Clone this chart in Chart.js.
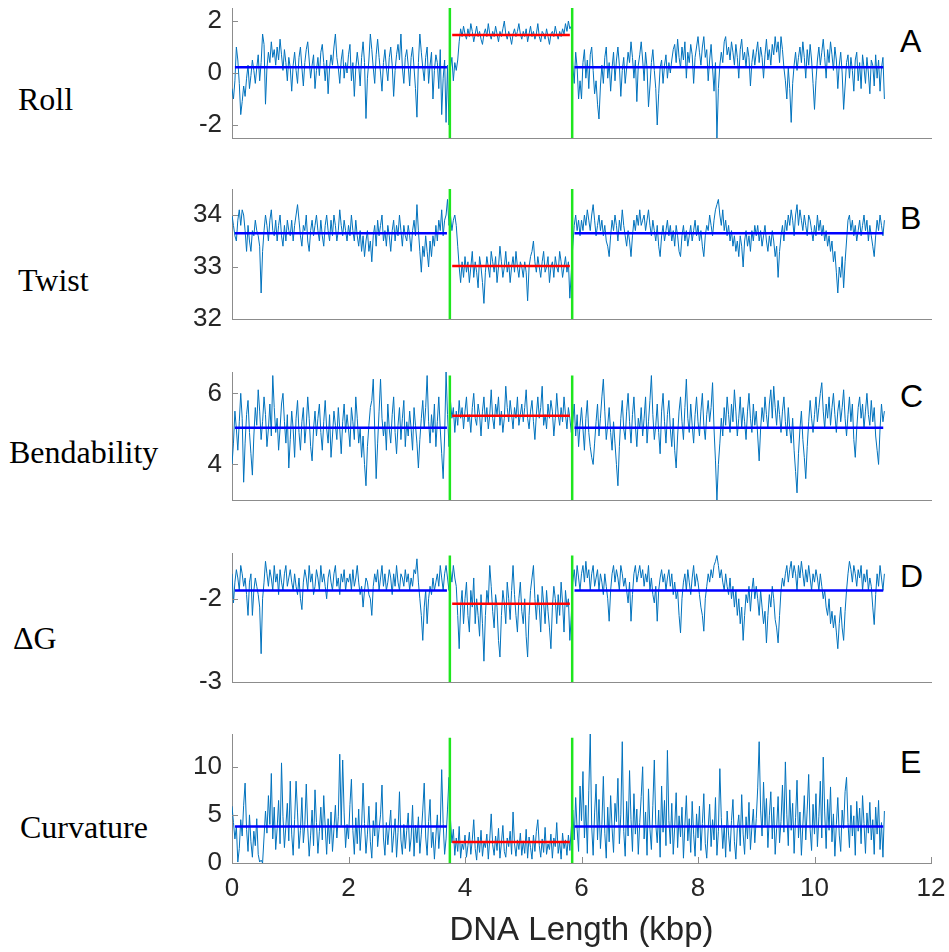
<!DOCTYPE html>
<html>
<head>
<meta charset="utf-8">
<script src="https://cdn.jsdelivr.net/npm/chart.js@4.4.1/dist/chart.umd.min.js"></script>
<style>
body{margin:0;background:#fff;width:949px;height:952px;position:relative;overflow:hidden;font-family:"Liberation Sans",Arial,sans-serif}
.caja{position:absolute;left:0}
.nombre{position:absolute;font-family:"Liberation Serif","Times New Roman",serif;font-size:32px;line-height:32px;color:#000;white-space:nowrap}
.letra{position:absolute;left:900px;font-size:32px;color:#000;transform:translateY(-50%)}
</style>
</head>
<body>
<div class="nombre" style="left:18px;top:83px">Roll</div>
<div class="nombre" style="left:18px;top:264px">Twist</div>
<div class="nombre" style="left:9px;top:436px">Bendability</div>
<div class="nombre" style="left:13px;top:622px">&Delta;G</div>
<div class="nombre" style="left:20px;top:811px">Curvature</div>
<div class="letra" style="top:41px">A</div>
<div class="letra" style="top:218px">B</div>
<div class="letra" style="top:396px">C</div>
<div class="letra" style="top:576px">D</div>
<div class="letra" style="top:762px">E</div>

<div class="caja" id="cajaA"><canvas id="grafA"></canvas></div>
<div class="caja" id="cajaB"><canvas id="grafB"></canvas></div>
<div class="caja" id="cajaC"><canvas id="grafC"></canvas></div>
<div class="caja" id="cajaD"><canvas id="grafD"></canvas></div>
<div class="caja" id="cajaE"><canvas id="grafE"></canvas></div>

<script>
// una muestra cada 0.025 kbp, de 0 a 11.2 kbp (40 por fila = 1 kbp)
var paso = 0.025;

var roll = [
 -0.6, -1.0, -0.3, 1.0, 0.5, -0.4, -1.6, -1.1, -0.5, -0.9,
 -0.2, 0.3, -0.6, -0.1, 0.5, 0.1, -0.4, 0.2, 0.7, -0.3,
 0.4, 1.5, 1.1, -1.2, 0.2, 0.8, 0.4, 1.2, 0.6, 0.9,
 0.3, 1.0, 0.5, 1.3, 0.7, 0.1, 0.9, 0.4, -0.3, 0.6,
 0.2, -0.7, 0.3, 0.8, 0.1, -0.4, 0.6, 1.0, 0.2, -0.5,
 0.4, 0.9, 1.2, 0.5, -0.2, 0.3, 0.7, -0.6, 0.1, 0.6,
 -0.1, 0.8, 1.1, 0.4, -0.3, 0.5, -0.8, 0.2, 0.7, 0.3,
 1.0, 1.5, 0.6, 0.2, -0.4, 0.5, 0.9, -0.2, 0.4, 0.0,
 0.7, 1.1, -0.3, 0.4, -0.9, 0.2, 0.8, 0.3, -0.5, 0.6,
 1.2, 0.4, -1.75, -0.2, 0.5, 1.5, 0.9, 0.2, -0.4, 0.7,
 1.3, 0.6, 0.0, -0.7, 0.4, 0.9, 0.2, -0.3, 0.6, 1.0,
 0.3, -0.9, 0.1, 0.7, 1.1, 0.5, 1.5, 0.2, -0.4, 0.6,
 0.9, 0.3, -0.5, 0.6, 1.0, 0.2, -0.6, -1.7, 0.4, 1.5,
 0.8, 0.2, -0.3, 0.6, 1.0, -0.4, 0.3, 0.8, -1.0, 0.1,
 0.7, 0.4, -0.6, 0.9, -1.6, -0.2, 0.5, -1.9, 0.3, -2.0,
 0.2, 0.6, -0.3, 0.4, 0.1, 0.5, 1.2, 1.7, 1.4, 1.8,
 1.5, 1.3, 1.7, 1.4, 1.9, 1.6, 1.2, 1.5, 1.8, 1.4,
 1.6, 1.3, 1.1, 1.5, 1.7, 1.4, 1.9, 1.5, 1.3, 1.6,
 1.4, 1.8, 1.5, 1.2, 1.6, 1.4, 1.7, 2.0, 1.5, 1.3,
 1.6, 1.4, 1.1, 1.5, 1.7, 1.4, 1.6, 1.9, 1.5, 1.3,
 1.6, 1.4, 1.7, 1.2, 1.5, 1.8, 1.4, 1.6, 1.3, 1.5,
 1.9, 1.4, 1.2, 1.6, 1.5, 1.3, 1.7, 1.4, 1.1, 1.5,
 1.6, 1.4, 1.8, 1.5, 1.3, 1.6, 1.4, 1.7, 1.5, 1.9,
 1.6, 2.0, 1.7, 1.8, 0.3, -0.4, 0.8, 0.2, -1.0, -0.3,
 -1.0, 0.4, 0.9, -0.2, 0.5, -0.6, 0.7, 1.0, 0.1, -0.8,
 -0.3, -1.2, -1.77, -0.5, 0.3, -0.4, 0.6, 1.0, -0.2, 0.4,
 -0.7, 0.2, 0.8, -0.3, 0.5, 1.0, 0.3, -0.9, 0.1, 0.6,
 -0.4, 0.2, 0.8, 0.4, 1.2, 0.6, -0.2, 0.5, -1.1, 0.3,
 0.7, 1.2, 0.5, -0.3, 0.8, 0.2, -1.3, -0.5, 0.4, 0.9,
 0.1, -0.6, -2.0, -0.8, 0.2, 0.5, -0.4, 0.3, 0.7, -0.2,
 0.4, 0.0, 0.5, 0.9, 1.1, 0.4, 1.3, 0.6, 0.2, 1.0,
 0.5, 1.2, -0.2, 0.8, 0.4, 1.1, 0.7, -0.4, 0.6, 1.0,
 1.4, 0.8, 0.3, 1.0, 1.4, 0.6, 0.9, -0.3, 0.5, 1.1,
 0.2, -0.7, 0.4, -2.5, -0.6, 0.3, 0.8, 0.4, 1.2, 1.4,
 0.7, 1.0, 0.5, 1.2, 0.8, 0.3, 1.1, 0.6, -0.2, 0.9,
 1.3, 0.5, 0.8, 0.2, 1.0, 0.6, -0.5, 0.4, 0.9, 0.3,
 0.8, 1.2, 0.4, 1.0, 0.6, -0.2, 0.7, 1.3, 0.5, 0.9,
 0.3, 1.1, 0.7, 1.4, 0.8, 1.2, 0.4, 1.4, 0.9, 0.2,
 -0.3, -1.0, 0.2, -0.6, -1.9, -0.4, 0.3, 0.8, 0.1, 0.6,
 1.0, 0.4, 1.2, 0.6, -0.2, 0.9, 0.3, 1.1, 0.5, -0.4,
 -1.4, -0.3, 0.5, 1.0, 0.3, 0.8, 1.3, 0.6, -0.2, 0.9,
 0.4, 1.2, 0.7, 0.1, 1.0, 0.5, -0.6, 0.3, 0.8, 0.0,
 -1.4, -0.5, 0.4, 0.7, -0.2, 0.6, 0.1, -0.7, 0.5, 0.8,
 -0.3, 0.4, -0.6, 0.7, 0.2, -0.4, 0.6, 0.0, -0.8, 0.5,
 0.3, -0.5, 0.7, -0.2, 0.5, -0.7, 0.2, 0.6, -1.0
];

var twist = [
 34.0, 33.8, 33.6, 33.5, 33.9, 34.1, 33.8, 34.1, 34.0, 33.7,
 33.3, 33.8, 33.5, 33.3, 33.7, 33.6, 33.9, 33.7, 33.6, 33.4,
 32.5, 33.3, 33.7, 34.0, 33.8, 33.5, 33.9, 34.1, 33.7, 33.6,
 33.9, 33.5, 33.8, 34.0, 33.6, 33.4, 33.8, 33.5, 33.9, 33.7,
 33.6, 33.9, 33.5, 33.8, 34.0, 34.2, 33.9, 33.6, 33.4, 33.8,
 33.7, 34.0, 33.5, 33.3, 33.7, 33.9, 33.6, 33.8, 34.0, 33.7,
 33.5, 33.9, 33.6, 33.4, 33.8, 34.0, 33.7, 33.5, 33.9, 33.6,
 34.0, 33.8, 33.5, 33.7, 34.1, 33.8, 33.6, 33.9, 33.7, 33.5,
 33.8, 33.6, 34.0, 33.7, 33.5, 33.9, 33.6, 33.4, 33.7, 33.3,
 33.6, 33.2, 33.5, 33.7, 33.3, 33.5, 33.1, 33.6, 33.8, 33.4,
 33.9, 33.6, 33.8, 34.0, 33.5, 33.7, 33.4, 33.8, 33.6, 33.3,
 33.7, 33.9, 33.5, 33.8, 33.6, 34.0, 33.7, 33.4, 33.8, 33.6,
 33.5, 33.8, 33.6, 33.3, 33.7, 33.9, 33.6, 34.2, 33.7, 33.3,
 32.9, 33.4, 33.2, 33.6, 33.3, 33.0, 33.5, 33.2, 33.6, 33.4,
 33.8, 33.5, 33.9, 33.7, 34.1, 33.6, 33.9, 34.0, 34.3, 33.8,
 34.0, 33.7, 33.9, 34.0, 33.8, 33.4, 33.0, 32.7, 33.1, 32.8,
 33.2, 32.9, 33.1, 32.7, 33.0, 33.3, 32.8, 33.1, 32.9, 32.6,
 33.2, 33.0, 32.7, 32.3, 32.9, 33.2, 33.0, 32.8, 33.3, 33.1,
 32.9, 33.2, 32.7, 33.0, 33.4, 33.1, 32.8, 33.0, 33.3, 32.9,
 33.1, 32.7, 33.0, 33.2, 32.9, 33.3, 33.0, 32.8, 33.1, 33.0,
 32.8, 33.1, 32.9, 32.35, 33.0, 33.2, 33.3, 33.5, 33.1, 32.9,
 33.2, 33.0, 32.8, 33.1, 33.3, 32.9, 33.0, 33.2, 32.7, 33.0,
 33.1, 32.8, 33.2, 33.0, 32.9, 33.3, 33.1, 32.8, 33.0, 33.2,
 32.9, 33.1, 32.4, 32.9, 33.4, 33.8, 34.0, 33.7, 33.9, 33.6,
 33.9, 33.7, 34.0, 33.8, 34.1, 33.9, 33.7, 34.0, 34.2, 33.9,
 33.6, 33.8, 34.0, 33.7, 33.9, 33.6, 33.8, 33.5, 33.4, 33.2,
 33.6, 33.9, 33.7, 34.0, 33.8, 33.5, 33.9, 33.7, 34.1, 33.8,
 33.6, 33.4, 33.7, 33.5, 33.2, 33.6, 33.9, 33.7, 34.0, 33.8,
 34.1, 33.8, 33.9, 34.0, 33.7, 33.9, 34.1, 33.8, 33.6, 33.9,
 33.7, 33.5, 33.8, 33.4, 33.2, 33.6, 33.8, 33.5, 33.7, 33.9,
 33.6, 33.8, 33.5, 33.7, 33.4, 33.8, 33.6, 33.3, 33.2, 33.6,
 33.8, 33.5, 33.7, 33.4, 33.6, 33.8, 33.5, 33.7, 33.9, 33.6,
 33.8, 33.5, 33.7, 33.4, 33.2, 33.6, 33.8, 33.7, 34.0, 33.8,
 33.6, 33.9, 34.1, 34.2, 34.3, 34.0, 33.8, 34.1, 33.7, 33.9,
 33.6, 33.8, 33.5, 33.7, 33.4, 33.6, 33.3, 33.5, 33.2, 33.6,
 33.4, 33.0, 33.5, 33.7, 33.4, 33.6, 33.3, 33.7, 33.5, 33.8,
 33.6, 33.8, 33.5, 33.7, 33.4, 33.6, 33.8, 33.5, 33.3, 33.6,
 33.4, 33.7, 33.5, 33.2, 33.4, 32.8, 33.3, 33.6, 33.8, 33.5,
 33.9, 33.7, 34.0, 33.8, 34.1, 33.9, 33.6, 34.0, 34.2, 33.8,
 34.1, 33.9, 33.7, 34.0, 33.8, 33.6, 34.0, 33.9, 33.7, 33.5,
 33.8, 33.6, 34.0, 33.7, 33.9, 33.6, 33.8, 33.5, 33.7, 33.4,
 33.6, 33.3, 33.5, 33.1, 33.3, 32.9, 32.5, 33.0, 32.8, 33.2,
 32.6, 33.1, 33.5, 33.9, 34.0, 33.7, 33.9, 33.6, 33.8, 33.5,
 33.7, 33.9, 33.6, 33.8, 34.0, 33.7, 33.9, 33.5, 33.8, 33.6,
 33.4, 33.2, 33.6, 33.9, 33.7, 34.0, 33.8, 33.6, 33.9
];

var bendability = [
 4.0, 4.6, 5.5, 5.0, 4.4, 5.2, 6.0, 5.3, 3.5, 4.6,
 5.4, 5.8, 4.9, 4.3, 3.7, 4.8, 5.6, 5.1, 6.1, 5.5,
 4.7, 5.2, 5.9, 5.4, 4.5, 5.0, 5.7, 4.8, 6.5, 5.6,
 4.9, 5.3, 4.4, 5.0, 5.7, 6.0, 5.2, 4.6, 5.4, 3.9,
 4.7, 5.5, 5.0, 4.2, 5.3, 5.8, 4.9, 4.4, 5.2, 5.6,
 4.6, 5.1, 5.9, 5.3, 4.5, 4.1, 5.0, 5.5, 4.8, 5.3,
 5.7, 4.9, 4.4, 5.2, 5.8, 5.0, 4.6, 5.4, 4.2, 4.8,
 5.5, 5.1, 4.7, 5.6, 5.0, 4.3, 5.2, 5.7, 4.9, 5.4,
 5.0, 4.5, 5.6, 5.2, 4.7, 5.9, 5.3, 4.6, 5.0, 4.2,
 4.8, 4.0, 3.4, 4.5, 5.1, 5.6, 5.8, 6.4, 5.0, 3.6,
 4.6, 5.5, 6.4, 5.3, 4.8, 5.2, 4.4, 5.7, 5.0, 4.6,
 5.4, 5.9, 4.9, 4.3, 5.1, 5.6, 4.7, 5.3, 5.8, 4.5,
 5.2, 4.8, 5.5, 5.0, 4.4, 5.6, 5.1, 4.6, 3.9, 4.7,
 5.3, 5.8, 5.0, 5.6, 6.5, 5.2, 4.6, 5.4, 4.9, 5.7,
 4.5, 5.2, 5.9, 5.0, 4.3, 3.6, 4.8, 6.6, 5.4, 4.5,
 5.8, 5.3, 5.6, 4.9, 5.5, 5.1, 5.8, 5.3, 5.6, 5.0,
 5.5, 5.9, 5.2, 5.4, 4.9, 5.6, 6.0, 5.3, 5.1, 5.7,
 5.4, 4.8, 5.5, 5.9, 5.2, 5.6, 5.0, 5.4, 6.1, 5.3,
 5.0, 5.7, 5.4, 5.9, 5.1, 5.5, 4.9, 5.3, 6.2, 5.6,
 5.2, 5.8, 5.4, 5.0, 5.6, 5.3, 5.9, 5.1, 5.4, 5.7,
 5.2, 5.6, 6.1, 5.3, 5.0, 5.5, 5.8, 5.2, 4.7, 5.4,
 5.9, 5.3, 5.6, 6.2, 5.1, 5.4, 5.0, 5.7, 5.3, 5.8,
 5.5, 4.8, 5.3, 6.0, 5.4, 5.1, 5.6, 5.2, 5.9, 5.4,
 5.0, 5.6, 5.3, 4.9, 5.2, 5.7, 4.8, 5.4, 4.5, 5.1,
 5.6, 5.0, 4.4, 5.3, 5.8, 4.9, 4.5, 4.2, 4.0, 4.6,
 5.2, 5.7, 4.8, 5.3, 5.9, 6.4, 5.5, 4.7, 5.1, 5.6,
 4.9, 4.4, 5.2, 4.6, 4.0, 3.4, 4.5, 5.3, 5.8, 5.0,
 4.7, 5.5, 6.0, 5.2, 4.6, 5.4, 5.9, 5.1, 4.5, 5.3,
 5.0, 5.6, 4.8, 5.3, 5.9, 4.6, 5.2, 5.8, 6.5, 5.4,
 4.7, 5.1, 5.7, 4.9, 4.3, 5.5, 6.0, 5.2, 4.6, 5.4,
 5.8, 5.0, 4.5, 5.3, 4.4, 3.9, 4.8, 5.5, 5.9, 5.2,
 4.7, 5.6, 6.4, 5.3, 4.9, 5.7, 5.1, 4.6, 5.4, 5.9,
 5.2, 4.8, 5.5, 6.0, 5.1, 4.7, 5.4, 5.8, 5.2, 5.6,
 6.3, 5.0, 4.1, 3.0, 4.0, 4.6, 5.3, 4.8, 5.6, 5.1,
 5.9, 5.4, 4.9, 5.7, 5.2, 6.1, 5.5, 4.8, 5.3, 5.9,
 5.0, 5.6, 5.2, 4.7, 5.5, 6.0, 5.3, 4.9, 5.7, 5.1,
 5.5, 4.8, 4.1, 5.0, 5.6, 5.2, 5.9, 5.4, 5.0, 5.7,
 6.1, 5.3, 6.2, 5.6, 5.1, 5.8, 5.4, 4.9, 5.5, 5.9,
 5.2, 4.8, 5.6, 5.0, 4.6, 5.3, 4.4, 3.8, 3.2, 4.3,
 5.0, 5.5, 4.7, 4.2, 3.6, 4.5, 5.2, 5.8, 5.3, 4.9,
 5.4, 5.9, 5.2, 5.6, 6.0, 6.3, 5.5, 5.0, 5.7, 5.3,
 5.9, 5.1, 5.6, 6.0, 5.4, 4.9, 5.5, 5.8, 5.2, 5.6,
 6.1, 5.3, 4.8, 5.4, 5.9, 5.2, 5.7, 4.7, 4.2, 5.0,
 5.6, 5.9, 5.3, 5.7, 5.0, 5.5, 6.0, 5.4, 5.1, 5.8,
 5.2, 5.6, 4.8, 4.4, 4.0, 5.0, 5.7, 5.2, 5.5
];

var deltaG = [
 -1.7, -2.05, -1.8, -1.65, -1.75, -1.9, -1.6, -1.7, -1.85, -1.75,
 -1.95, -2.2, -1.8, -1.7, -2.2, -1.9, -1.75, -1.85, -1.95, -2.1,
 -2.66, -2.0, -1.8, -1.55, -1.7, -1.85, -1.65, -1.75, -1.9, -1.6,
 -1.8, -1.7, -1.95, -1.65, -1.8, -1.9, -1.7, -1.6, -1.85, -1.75,
 -1.65, -1.8, -1.9, -1.7, -1.85, -1.95, -1.75, -2.0, -2.13, -1.8,
 -1.65, -1.75, -1.9, -1.6, -1.8, -1.7, -1.95, -1.85, -1.65, -1.75,
 -1.9, -1.6, -1.8, -1.7, -1.85, -2.0, -1.75, -1.65, -1.8, -1.9,
 -1.7, -1.6, -1.85, -1.75, -1.95, -1.7, -1.8, -1.65, -1.9, -1.75,
 -1.8, -1.7, -1.9, -1.65, -1.85, -1.75, -1.6, -1.8, -1.95, -1.85,
 -2.1, -1.9, -1.75, -1.8, -1.95, -2.0, -2.2, -1.85, -1.7, -1.8,
 -1.65, -1.9, -1.75, -1.6, -1.85, -1.7, -1.9, -1.8, -1.65, -1.75,
 -1.95, -1.7, -1.85, -1.6, -1.8, -1.9, -1.7, -1.75, -1.85, -1.65,
 -1.8, -1.7, -1.9, -1.75, -1.85, -1.65, -1.7, -1.52, -1.8, -2.0,
 -2.2, -2.5, -2.1, -1.9, -2.3, -2.0, -1.85, -1.95, -1.75, -1.9,
 -1.8, -1.7, -1.85, -1.6, -1.75, -1.9, -1.7, -1.6, -1.75, -1.9,
 -1.65, -1.8, -1.6, -1.75, -1.85, -2.2, -2.6, -2.1, -1.9, -2.3,
 -2.0, -1.8, -2.2, -2.4, -1.9, -2.1, -1.75, -2.3, -2.0, -2.2,
 -2.45, -1.95, -2.3, -2.75, -2.2, -1.9, -2.05, -1.6, -1.85, -2.15,
 -2.35, -1.95, -2.1, -2.5, -2.7, -2.2, -1.9, -2.05, -2.3, -1.8,
 -2.0, -2.25, -1.9, -1.6, -1.95, -2.2, -2.4, -2.0, -1.8, -2.15,
 -2.3, -2.0, -2.45, -2.7, -2.2, -1.9, -1.75, -1.6, -2.0, -2.25,
 -1.95, -2.1, -2.4, -1.85, -2.05, -2.3, -1.9, -2.15, -2.35, -2.6,
 -2.1, -1.85, -2.0, -2.3, -1.95, -2.2, -1.8, -2.05, -2.4, -1.9,
 -2.1, -2.0, -2.5, -2.2, -1.8, -1.65, -1.85, -1.6, -1.75, -1.9,
 -1.7, -1.6, -1.8, -1.55, -1.75, -1.65, -1.9, -1.7, -1.6, -1.85,
 -1.75, -1.65, -1.9, -1.7, -1.8, -1.95, -1.7, -1.85, -2.0, -2.27,
 -1.9, -1.7, -1.6, -1.8, -1.65, -1.75, -1.9, -1.6, -1.7, -1.85,
 -1.75, -1.9, -2.05, -1.8, -2.27, -1.95, -1.7, -1.6, -1.8, -1.7,
 -1.6, -1.75, -1.65, -1.85, -1.7, -1.8, -1.6, -1.9, -1.75, -1.95,
 -2.05, -1.85, -2.27, -1.9, -1.75, -1.65, -1.8, -1.7, -1.9, -1.75,
 -1.65, -1.85, -1.7, -1.95, -1.8, -2.0, -1.9, -2.2, -2.41, -2.0,
 -1.8, -1.7, -1.9, -1.65, -1.8, -1.95, -1.75, -1.6, -1.85, -1.7,
 -1.8, -1.95, -2.1, -2.2, -2.39, -2.0, -1.85, -1.7, -1.8, -1.65,
 -1.75, -1.6, -1.55, -1.48, -1.6, -1.75, -1.65, -1.8, -1.9, -1.7,
 -1.85, -1.95, -1.75, -2.0, -1.85, -2.1, -1.9, -2.2, -2.0, -2.3,
 -2.1, -2.5, -2.2, -1.95, -2.05, -1.85, -2.15, -1.9, -1.75, -2.0,
 -1.85, -2.0, -2.2, -1.9, -2.1, -2.3, -2.15, -2.53, -2.2, -1.95,
 -2.1, -1.85, -2.0, -2.25, -2.35, -2.53, -2.2, -1.9, -1.75, -1.85,
 -1.7, -1.6, -1.8, -1.65, -1.55, -1.75, -1.6, -1.7, -1.9, -1.6,
 -1.75, -1.55, -1.7, -1.85, -1.65, -1.8, -1.6, -1.75, -1.9, -1.7,
 -1.8, -1.65, -1.75, -1.9, -1.7, -1.85, -2.0, -1.9, -2.1, -2.2,
 -2.0, -2.3, -2.15, -2.35, -2.2, -2.4, -2.6, -2.3, -2.1, -2.35,
 -2.5, -2.15, -1.9, -1.7, -1.55, -1.65, -1.8, -1.6, -1.7, -1.85,
 -1.65, -1.75, -1.6, -1.9, -1.7, -1.8, -1.65, -1.9, -1.75, -1.85,
 -2.1, -2.31, -1.95, -1.7, -1.85, -1.6, -1.75, -1.9, -1.7
];

var curvature = [
 5.9, 4.2, 2.5, 3.8, 0.1, 1.5, 4.5, 2.8, 6.0, 8.3,
 3.5, 1.2, 5.0, 2.2, 0.6, 3.3, 1.8, 4.6, 0.9, 0.1,
 0.3, 0.0, 2.7, 5.4, 3.1, 7.0, 4.0, 9.3, 2.5, 5.8,
 1.4, 3.6, 6.5, 2.0, 10.4, 4.8, 1.6, 3.9, 6.2, 2.3,
 8.5, 3.0, 0.8, 4.5, 8.5, 5.2, 1.5, 3.4, 6.8, 2.1,
 4.0, 8.2, 3.6, 0.7, 2.9, 5.5, 1.8, 7.6, 4.2, 1.0,
 3.3, 5.8, 2.4, 7.0, 3.8, 0.9, 4.6, 2.0, 5.3, 1.2,
 3.5, 6.0, 2.6, 4.8, 11.3, 3.9, 10.7, 5.2, 1.6, 4.0,
 2.5, 6.1, 8.7, 3.4, 0.9, 4.7, 2.0, 5.6, 1.3, 3.8,
 8.3, 4.1, 1.0, 3.0, 5.9, 2.2, 0.5, 4.4, 2.8, 6.3,
 1.7, 3.5, 5.0, 8.1, 2.6, 0.8, 4.2, 1.9, 3.7, 5.5,
 1.1, 2.9, 4.6, 0.6, 3.2, 7.4, 2.4, 0.9, 4.0, 1.5,
 3.4, 5.2, 1.2, 2.6, 6.0, 0.7, 3.9, 2.1, 4.8, 1.0,
 3.0, 5.5, 8.3, 2.7, 0.8, 4.3, 6.6, 1.6, 3.2, 0.4,
 2.8, 5.0, 1.5, 3.7, 9.7, 4.1, 0.9, 2.5, 5.6, 8.9,
 4.6, 2.1, 3.5, 0.8, 2.6, 1.2, 3.8, 0.5, 2.0, 1.4,
 2.9, 0.6, 1.8, 3.2, 0.9, 2.4, 4.5, 1.5, 0.3, 2.7,
 1.1, 3.4, 0.7, 2.2, 1.6, 3.0, 0.4, 2.5, 5.1, 1.9,
 0.8, 2.8, 1.3, 3.6, 0.5, 2.1, 3.9, 1.2, 0.6, 2.6,
 1.7, 3.3, 0.9, 5.3, 2.0, 0.7, 2.4, 1.4, 3.1, 0.8,
 2.3, 1.0, 3.5, 0.5, 2.7, 1.6, 0.4, 2.9, 1.2, 3.3,
 4.5, 1.8, 0.6, 2.5, 1.1, 3.7, 0.9, 2.0, 1.4, 3.0,
 0.5, 2.6, 1.7, 4.2, 1.0, 2.2, 0.4, 3.1, 1.5, 2.4,
 0.8, 2.9, 1.3, 3.6, 5.5, 2.4, 6.8, 3.5, 1.2, 8.0,
 4.4, 9.5, 2.6, 6.0, 1.0, 7.5, 13.4, 3.8, 0.8, 5.2,
 8.2, 2.4, 6.6, 1.5, 4.0, 9.0, 3.1, 0.5, 5.8, 2.2,
 7.0, 3.6, 1.1, 6.2, 4.3, 8.8, 2.0, 5.0, 12.6, 3.3,
 0.7, 6.4, 2.8, 9.6, 4.5, 1.2, 7.2, 3.0, 5.6, 0.9,
 4.2, 6.9, 10.0, 2.5, 5.3, 0.8, 7.7, 3.5, 1.4, 6.0,
 10.7, 4.0, 2.1, 5.5, 0.6, 8.0, 3.2, 6.5, 1.8, 11.7,
 4.4, 2.0, 6.2, 0.9, 3.7, 7.3, 1.6, 4.9, 2.7, 5.8,
 0.5, 3.9, 7.0, 2.3, 4.6, 1.1, 6.4, 3.0, 0.7, 5.1,
 2.6, 5.9, 1.3, 4.1, 7.2, 2.0, 0.5, 3.6, 6.1, 1.7,
 4.5, 2.4, 6.8, 0.8, 3.3, 9.8, 4.7, 1.5, 3.9, 0.6,
 5.4, 2.9, 1.2, 4.4, 6.6, 2.2, 0.4, 3.6, 5.0, 1.8,
 7.1, 3.0, 0.9, 4.8, 2.5, 6.3, 1.4, 3.7, 5.6, 2.1,
 4.6, 7.8, 12.6, 5.5, 2.8, 8.4, 3.9, 6.7, 1.6, 4.9,
 7.4, 2.5, 5.8, 0.9, 3.6, 6.9, 2.1, 4.3, 8.1, 3.2,
 10.5, 5.0, 1.8, 7.6, 3.4, 6.2, 1.0, 4.7, 8.6, 2.6,
 5.3, 0.8, 3.9, 7.0, 2.4, 5.6, 9.2, 3.5, 1.3, 6.1,
 3.0, 7.2, 1.7, 4.8, 8.5, 2.6, 11.0, 5.3, 1.5, 6.6,
 3.4, 7.9, 2.2, 5.1, 0.7, 4.0, 6.8, 2.9, 1.2, 5.5,
 3.6, 7.4, 8.9, 4.2, 1.6, 6.0, 2.8, 4.9, 0.8, 6.4,
 3.3, 5.7, 2.0, 7.0, 4.1, 1.0, 5.2, 3.1, 6.3, 2.4,
 4.5, 0.9, 5.8, 3.0, 6.5, 1.4, 4.2, 0.6, 5.4
];

// medias fuera y dentro de la region central
var mediaFuera = [0.22, 33.65, 5.03, -1.90, 3.8];
var mediaDentro = [1.46, 33.02, 5.37, -2.06, 2.17];

// limites de la region (kbp)
var limites = [3.74, 5.84];
var tramoIzq = [0.05, 3.69];
var tramoCentro = [3.78, 5.80];
var tramoDer = [5.88, 11.18];

var ticksRoll = [-2, 0, 2];
var ticksTwist = [32, 33, 34];
var ticksBend = [4, 6];
var ticksDG = [-3, -2];
var ticksCurv = [0, 5, 10];
var ticksX = [0, 2, 4, 6, 8, 10, 12];

var paneles = [
  {id: 'A', datos: roll, min: -2.5, max: 2.5, ticks: ticksRoll, arriba: 8, abajo: 138, verde: 2.5},
  {id: 'B', datos: twist, min: 32, max: 34.5, ticks: ticksTwist, arriba: 189, abajo: 319, verde: 34.5},
  {id: 'C', datos: bendability, min: 3.0, max: 6.6, ticks: ticksBend, arriba: 372, abajo: 500, verde: 6.5},
  {id: 'D', datos: deltaG, min: -3, max: -1.45, ticks: ticksDG, arriba: 553, abajo: 682, verde: -1.48},
  {id: 'E', datos: curvature, min: 0, max: 13.4, ticks: ticksCurv, arriba: 734, abajo: 863, verde: 13.0}
];

var colorEje = '#8c8c8c';
var colorTexto = '#262626';
var fuente = '"Liberation Sans", Arial, sans-serif';

// marcas cortas hacia dentro, como en matlab
var marcas = {
  id: 'marcas',
  afterDraw: function(chart, args, opts){
    var ctx = chart.ctx, a = chart.chartArea, sy = chart.scales.y, sx = chart.scales.x;
    ctx.save();
    ctx.strokeStyle = colorEje;
    ctx.lineWidth = 1;
    sy.ticks.forEach(function(t){
      var yy = Math.round(sy.getPixelForValue(t.value)) + 0.5;
      ctx.beginPath(); ctx.moveTo(a.left, yy); ctx.lineTo(a.left + 6, yy); ctx.stroke();
    });
    if (opts.conX) {
      sx.ticks.forEach(function(t){
        var xx = Math.round(sx.getPixelForValue(t.value)) + 0.5;
        ctx.beginPath(); ctx.moveTo(xx, a.bottom); ctx.lineTo(xx, a.bottom - 6); ctx.stroke();
      });
    }
    ctx.restore();
  }
};

function crearPanel(p, n){
  var ultimo = (n == paneles.length - 1);
  var arribaCanvas = p.arriba - 10;
  var alto = ultimo ? (952 - arribaCanvas) : (p.abajo - p.arriba + 20);
  var caja = document.getElementById('caja' + p.id);
  caja.style.top = arribaCanvas + 'px';
  var canvas = document.getElementById('graf' + p.id);
  canvas.width = 949;
  canvas.height = alto;

  var senal = p.datos.map(function(v, i){ return {x: +(i * paso).toFixed(3), y: v}; });
  var fuera = [
    {x: tramoIzq[0], y: mediaFuera[n]}, {x: tramoIzq[1], y: mediaFuera[n]},
    {x: limites[0], y: null},
    {x: tramoDer[0], y: mediaFuera[n]}, {x: tramoDer[1], y: mediaFuera[n]}
  ];
  var dentro = [{x: tramoCentro[0], y: mediaDentro[n]}, {x: tramoCentro[1], y: mediaDentro[n]}];
  var verdes = [
    {x: limites[0], y: p.min}, {x: limites[0], y: p.verde},
    {x: 4.8, y: null},
    {x: limites[1], y: p.min}, {x: limites[1], y: p.verde}
  ];

  new Chart(canvas.getContext('2d'), {
    type: 'line',
    data: {
      datasets: [
        {data: verdes, borderColor: '#1ee61e', borderWidth: 2.5, pointRadius: 0, order: 1},
        {data: fuera, borderColor: '#0000ff', borderWidth: 2.5, pointRadius: 0, order: 2},
        {data: dentro, borderColor: '#ff0000', borderWidth: 2.5, pointRadius: 0, order: 2},
        {data: senal, borderColor: '#0072BD', borderWidth: 1, pointRadius: 0, order: 3}
      ]
    },
    options: {
      responsive: false,
      animation: false,
      spanGaps: false,
      layout: {padding: {left: 0, right: 18, top: 10, bottom: ultimo ? 0 : 10}},
      plugins: {legend: {display: false}, tooltip: {enabled: false}, marcas: {conX: ultimo}},
      scales: {
        x: {
          type: 'linear', min: 0, max: 12,
          grid: {display: false, drawTicks: false},
          border: {color: colorEje, width: 1},
          afterBuildTicks: function(s){ s.ticks = ticksX.map(function(v){ return {value: v}; }); },
          afterFit: function(s){
            s.height = ultimo ? 89 : 0;
            s.paddingLeft = 0; s.paddingRight = 0;
          },
          ticks: {display: ultimo, padding: 10, color: colorTexto, maxRotation: 0,
                  font: {family: fuente, size: 26}},
          title: {display: ultimo, text: 'DNA Length (kbp)', color: colorTexto,
                  font: {family: fuente, size: 33},
                  padding: {top: 0, bottom: 1}}
        },
        y: {
          min: p.min, max: p.max,
          grid: {display: false, drawTicks: false},
          border: {color: colorEje, width: 1},
          afterBuildTicks: function(s){ s.ticks = p.ticks.map(function(v){ return {value: v}; }); },
          afterFit: function(s){
            s.width = 232;
            s.paddingTop = 0; s.paddingBottom = 0;
          },
          ticks: {padding: 10, color: colorTexto, font: {family: fuente, size: 26}}
        }
      }
    },
    plugins: [marcas]
  });
}

paneles.forEach(crearPanel);
</script>
</body>
</html>
